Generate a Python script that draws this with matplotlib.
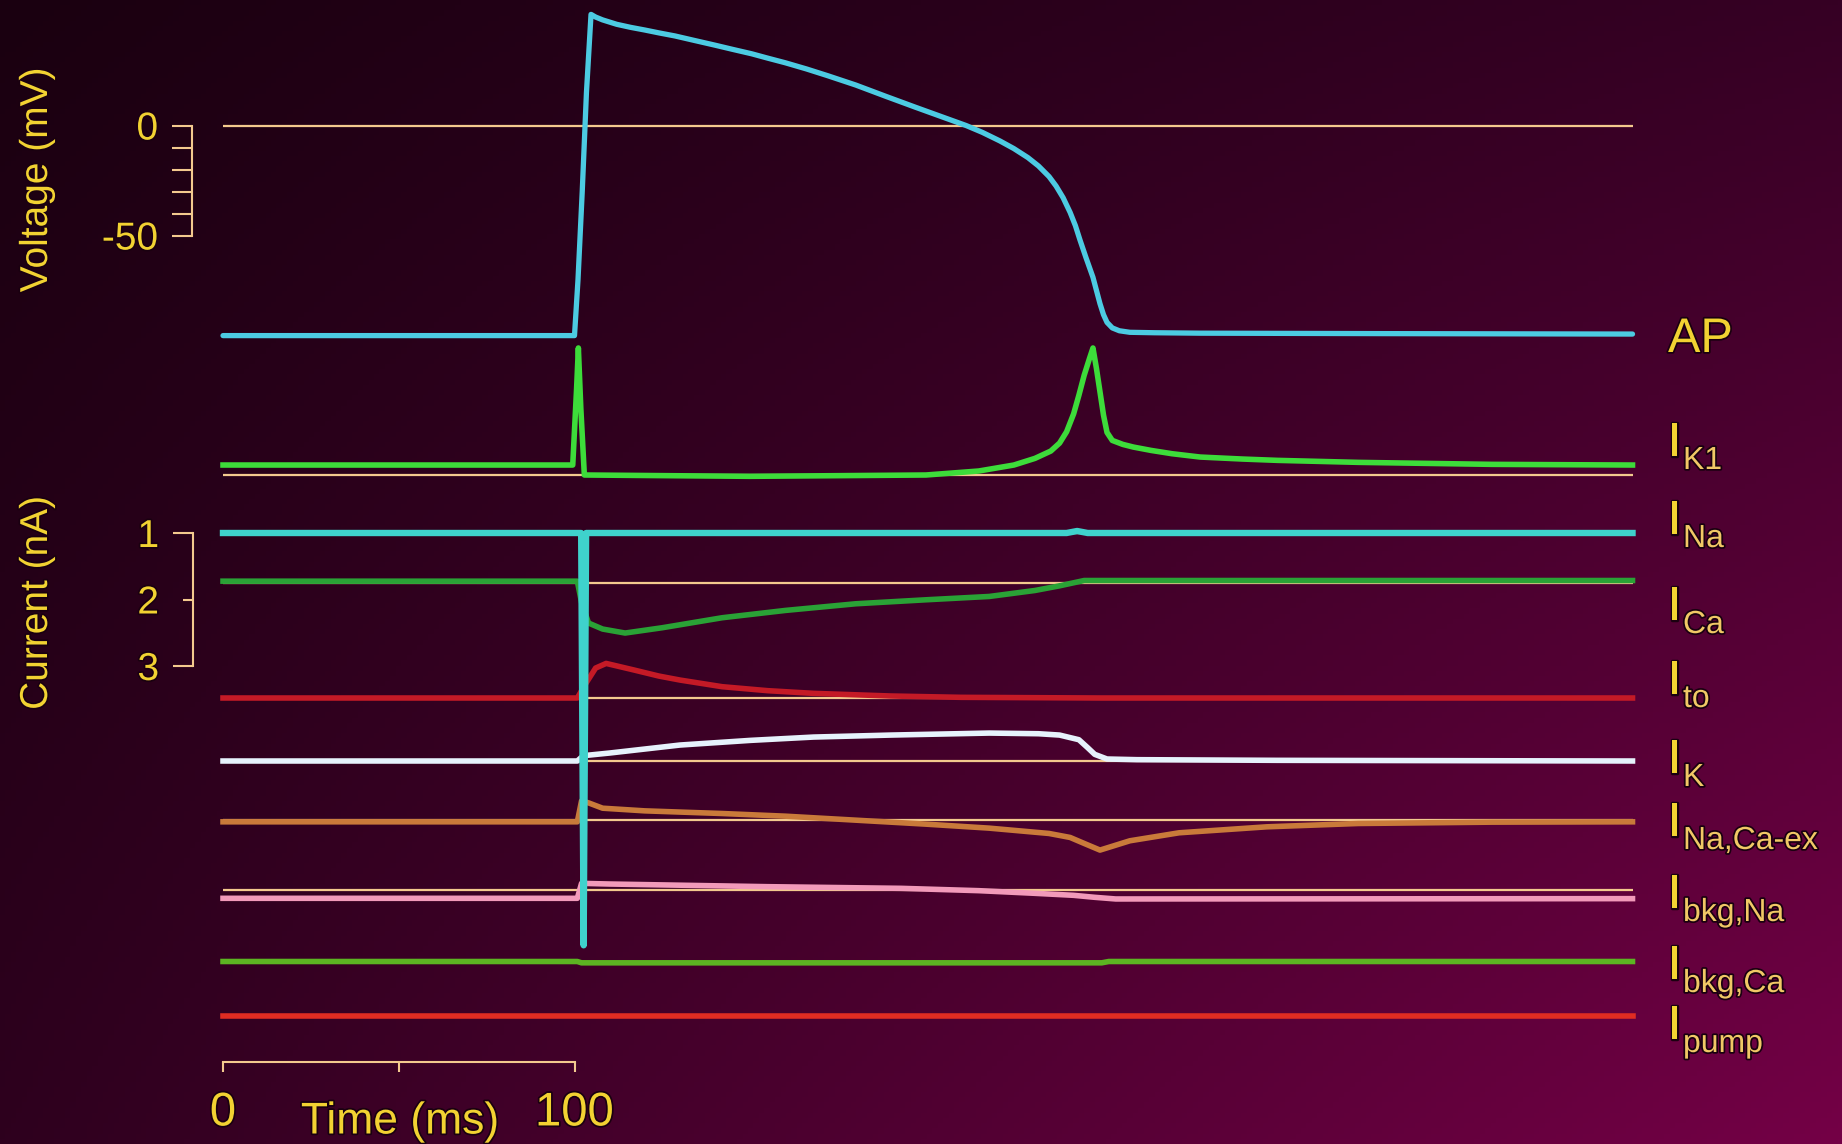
import numpy as np
import matplotlib
matplotlib.use("Agg")
import matplotlib.pyplot as plt
import matplotlib.patheffects as pe

# ---------------- data ----------------
# Action potential (time in ms, voltage in mV)
ap_t = [0, 100.0, 101.0, 102.2, 103.4, 104.7, 106, 108, 112, 116, 120, 124, 128.6, 134,
        140, 145, 150.4, 155, 160, 166, 172.1, 180, 188.5, 197, 204.8, 211.4, 216, 221,
        225, 229, 232, 235, 237, 239, 241, 242.5, 243.8, 245.5, 247.5, 248.5, 249.5,
        250.5, 251.5, 253, 255, 258, 265, 278, 330, 401]
ap_v = [-95.5, -95.5, -70, -30, 15, 50.5, 49.3, 48, 46, 44.6, 43.4, 42.1, 40.7, 38.7,
        36.5, 34.6, 32.6, 30.6, 28.5, 25.7, 22.6, 18.4, 13.3, 8.3, 3.8, 0, -3.1, -7,
        -10.5, -14.6, -18.4, -23.2, -27.5, -32.8, -39.5, -45.5, -52, -60, -69, -75,
        -81, -86, -89.5, -92, -93.3, -94, -94.2, -94.4, -94.6, -94.8]

# Currents (time in ms, current in nA, outward positive)
ik1_t = [0, 99.5, 100.6, 101.1, 101.8, 102.8, 150, 200, 215, 225, 231, 235.5, 238, 240,
         242, 243.5, 245, 246.5, 247.5, 248.5, 249.5, 250.5, 251.5, 253, 256, 259, 264,
         270, 278, 290, 300, 323, 361, 401]
ik1_i = [0.15, 0.15, 1.3, 1.91, 1.0, 0.0, -0.02, 0.0, 0.06, 0.15, 0.25, 0.36, 0.48, 0.65,
         0.92, 1.2, 1.5, 1.75, 1.91, 1.6, 1.25, 0.9, 0.64, 0.52, 0.46, 0.42, 0.37,
         0.32, 0.27, 0.24, 0.22, 0.19, 0.16, 0.15]

ina_t = [0, 101.9, 102.6, 103.3, 240, 243, 246, 401]
ina_i = [0, 0, -6.2, 0, 0, 0.03, 0, 0]

ica_t = [0, 100.8, 102, 104, 108, 114.4, 125, 142, 160, 180, 200, 218, 231, 238, 245, 401]
ica_i = [0.02, 0.02, -0.3, -0.61, -0.7, -0.76, -0.68, -0.53, -0.42, -0.32, -0.26,
         -0.21, -0.12, -0.05, 0.03, 0.03]

ito_t = [0, 100.8, 103, 106, 109, 113, 117, 124, 130, 142, 155, 168, 190, 210, 250, 401]
ito_i = [0, 0, 0.2, 0.45, 0.52, 0.47, 0.42, 0.33, 0.27, 0.17, 0.11, 0.07, 0.03, 0.01, 0, 0]

ik_t = [0, 100.8, 102.5, 110, 130, 150, 168, 190, 218, 232, 238, 243.5, 246, 248,
        251.5, 260, 300, 401]
ik_i = [0, 0, 0.08, 0.12, 0.24, 0.31, 0.36, 0.39, 0.42, 0.41, 0.39, 0.32, 0.2, 0.1,
        0.03, 0.02, 0.01, 0.0]

inaca_t = [0, 100.8, 102, 104, 108, 120, 142, 160, 180, 200, 218, 235, 241, 245, 249.5,
           258, 272, 297, 323, 361, 401]
inaca_i = [-0.035, -0.035, 0.28, 0.25, 0.17, 0.13, 0.09, 0.05, -0.01, -0.07, -0.13,
           -0.21, -0.27, -0.36, -0.46, -0.32, -0.2, -0.11, -0.06, -0.04, -0.035]

ibna_t = [0, 100.8, 102, 110, 155, 193, 215, 231, 242, 248, 254, 401]
ibna_i = [-0.125, -0.125, 0.1, 0.09, 0.05, 0.025, -0.01, -0.05, -0.08, -0.11, -0.135, -0.13]

ibca_t = [0, 100.8, 102, 250, 252, 401]
ibca_i = [0.0, 0.0, -0.02, -0.02, 0.0, 0.0]

ipump_t = [0, 401]
ipump_i = [0.0, 0.0]

current_labels = ["K1", "Na", "Ca", "to", "K", "Na,Ca-ex", "bkg,Na", "bkg,Ca", "pump"]
current_t = [ik1_t, ina_t, ica_t, ito_t, ik_t, inaca_t, ibna_t, ibca_t, ipump_t]
current_i = [ik1_i, ina_i, ica_i, ito_i, ik_i, inaca_i, ibna_i, ibca_i, ipump_i]
current_colors = ["#3ddc3a", "#3fd2cc", "#2aa236", "#c41a26", "#e6f2fc", "#c97a3a",
                  "#f29aba", "#5cb422", "#e02c22"]

volt_ticks = [0, -10, -20, -30, -40, -50]
volt_ticklabels = ["0", "", "", "", "", "-50"]
cur_scale_major = [1, 3]
cur_scale_minor = [2]
time_ticks = [0, 50, 100]
time_ticklabels = ["0", "", "100"]

# ---------------- layout (pixels of the 1842x1144 picture) ----------------
W, H = 1842, 1144
T0_PX, PX_PER_MS = 223.0, 3.515
V0_PX, PX_PER_MV = 125.5, 2.2
PX_PER_NA = 66.5
zero_px = [475, 533, 582.5, 698, 761, 819.5, 890, 961.5, 1015.5]   # zero line of each current
ibase_px = [456, 534, 620, 694, 773, 836, 908, 979, 1039]           # baseline of the "I" label
LABEL_X = 1668
SUB_X = 1683

YEL = "#f2d232"
SUBC = "#f1c866"
REF = "#f3c98e"
XLIM = (-T0_PX / PX_PER_MS, (W - T0_PX) / PX_PER_MS)
SHADOW = [pe.withStroke(linewidth=2.5, foreground="#1a0010")]

plt.rcParams["font.family"] = ["Liberation Sans", "DejaVu Sans"]

fig = plt.figure(figsize=(W / 100, H / 100), dpi=100)

# background gradient
bg = fig.add_axes([0, 0, 1, 1], zorder=0)
yy, xx = np.mgrid[0:1:220j, 0:1:340j]
tl = np.array([0x1a, 0x00, 0x10]) / 255
tr = np.array([0x36, 0x00, 0x24]) / 255
bl = np.array([0x2e, 0x00, 0x1e]) / 255
br = np.array([0x74, 0x00, 0x46]) / 255
img = (tl * ((1 - xx) * (1 - yy))[..., None] + tr * (xx * (1 - yy))[..., None]
       + bl * ((1 - xx) * yy)[..., None] + br * (xx * yy)[..., None])
bg.imshow(img, extent=[0, 1, 0, 1], aspect="auto", origin="upper")
bg.axis("off")


def clean(ax):
    ax.set_facecolor("none")
    ax.set_xlim(*XLIM)
    for s in ax.spines.values():
        s.set_visible(False)
    ax.set_xticks([])
    ax.set_yticks([])


# ---- voltage axes (AP), also hosts voltage scale bar and time bar ----
av = fig.add_axes([0, 0, 1, 1], zorder=2)
clean(av)
av.set_ylim(-(H - V0_PX) / PX_PER_MV, V0_PX / PX_PER_MV)
av.hlines(0, ap_t[0], ap_t[-1], color=REF, lw=1.6, zorder=1)
av.plot(ap_t, ap_v, color="#4ccbe2", lw=3.8, solid_joinstyle="round",
        solid_capstyle="round", zorder=3)

av.spines["left"].set_visible(True)
av.spines["left"].set_position(("axes", 192 / W))
av.spines["left"].set_bounds(-50, 0)
av.spines["left"].set_color(REF)
av.spines["left"].set_linewidth(1.5)
av.set_yticks(volt_ticks)
av.set_yticklabels(volt_ticklabels)
av.tick_params(axis="y", direction="out", length=14.4, width=1.5, color=REF,
               labelsize=28, labelcolor=YEL, pad=10)

av.spines["bottom"].set_visible(True)
av.spines["bottom"].set_position(("axes", 1 - 1062 / H))
av.spines["bottom"].set_bounds(0, 100)
av.spines["bottom"].set_color(REF)
av.spines["bottom"].set_linewidth(1.5)
av.set_xticks(time_ticks)
av.set_xticklabels(time_ticklabels)
av.tick_params(axis="x", direction="out", length=7.2, width=1.5, color=REF,
               labelsize=34, labelcolor=YEL, pad=14)
for lbl in av.get_xticklabels() + av.get_yticklabels():
    lbl.set_path_effects(SHADOW)

# ---- current scale bar axes (1..3 nA, increasing downward) ----
asc = fig.add_axes([0, 0, 1, 1], zorder=2)
clean(asc)
c_top = 1 - zero_px[1] / PX_PER_NA
c_bot = 1 + (H - zero_px[1]) / PX_PER_NA
asc.set_ylim(c_bot, c_top)
asc.spines["left"].set_visible(True)
asc.spines["left"].set_position(("axes", 193 / W))
asc.spines["left"].set_bounds(cur_scale_major[0], cur_scale_major[-1])
asc.spines["left"].set_color(REF)
asc.spines["left"].set_linewidth(1.5)
asc.set_yticks(cur_scale_major)
asc.set_yticklabels([str(v) for v in cur_scale_major])
asc.set_yticks(cur_scale_minor, minor=True)
asc.set_yticklabels([str(v) for v in cur_scale_minor], minor=True)
asc.tick_params(axis="y", which="major", direction="out", length=14.4, width=1.5,
                color=REF, labelsize=28, labelcolor=YEL, pad=10)
asc.tick_params(axis="y", which="minor", direction="out", length=7.2, width=1.5,
                color=REF, labelsize=28, labelcolor=YEL, pad=17.2)
for lbl in asc.get_yticklabels() + asc.get_yticklabels(minor=True):
    lbl.set_path_effects(SHADOW)

# ---- current traces ----
order = [0, 2, 3, 4, 5, 6, 7, 8, 1]   # INa drawn last (its spike crosses the others)
for k in order:
    z = zero_px[k]
    ax = fig.add_axes([0, 0, 1, 1], zorder=3 + (k == 1))
    clean(ax)
    ax.set_ylim(-(H - z) / PX_PER_NA, z / PX_PER_NA)
    ax.hlines(0, current_t[k][0], current_t[k][-1], color=REF, lw=1.6, zorder=1)
    ax.plot(current_t[k], current_i[k], color=current_colors[k],
            lw=4.6 if k == 1 else 4.0, solid_joinstyle="round", zorder=3)

# ---- texts ----
fig.text(37 / W, 1 - 180 / H, "Voltage (mV)", rotation=90, ha="center", va="center",
         fontsize=28, color=YEL, path_effects=SHADOW)
fig.text(37 / W, 1 - 603 / H, "Current (nA)", rotation=90, ha="center", va="center",
         fontsize=28, color=YEL, path_effects=SHADOW)
fig.text(400 / W, 1.5 / H, "Time (ms)", ha="center", va="bottom", fontsize=32, color=YEL,
         path_effects=SHADOW)

fig.text(LABEL_X / W, 1 - 352 / H, "AP", ha="left", va="baseline", fontsize=35, color=YEL,
         path_effects=SHADOW)
for lab, yb in zip(current_labels, ibase_px):
    fig.text(LABEL_X / W, 1 - yb / H, "I", ha="left", va="baseline", fontsize=35,
             color=YEL, path_effects=SHADOW)
    fig.text(SUB_X / W, 1 - (yb + 13) / H, lab, ha="left", va="baseline", fontsize=23,
             color=SUBC, path_effects=SHADOW)

fig.savefig("out.png", dpi=100)
